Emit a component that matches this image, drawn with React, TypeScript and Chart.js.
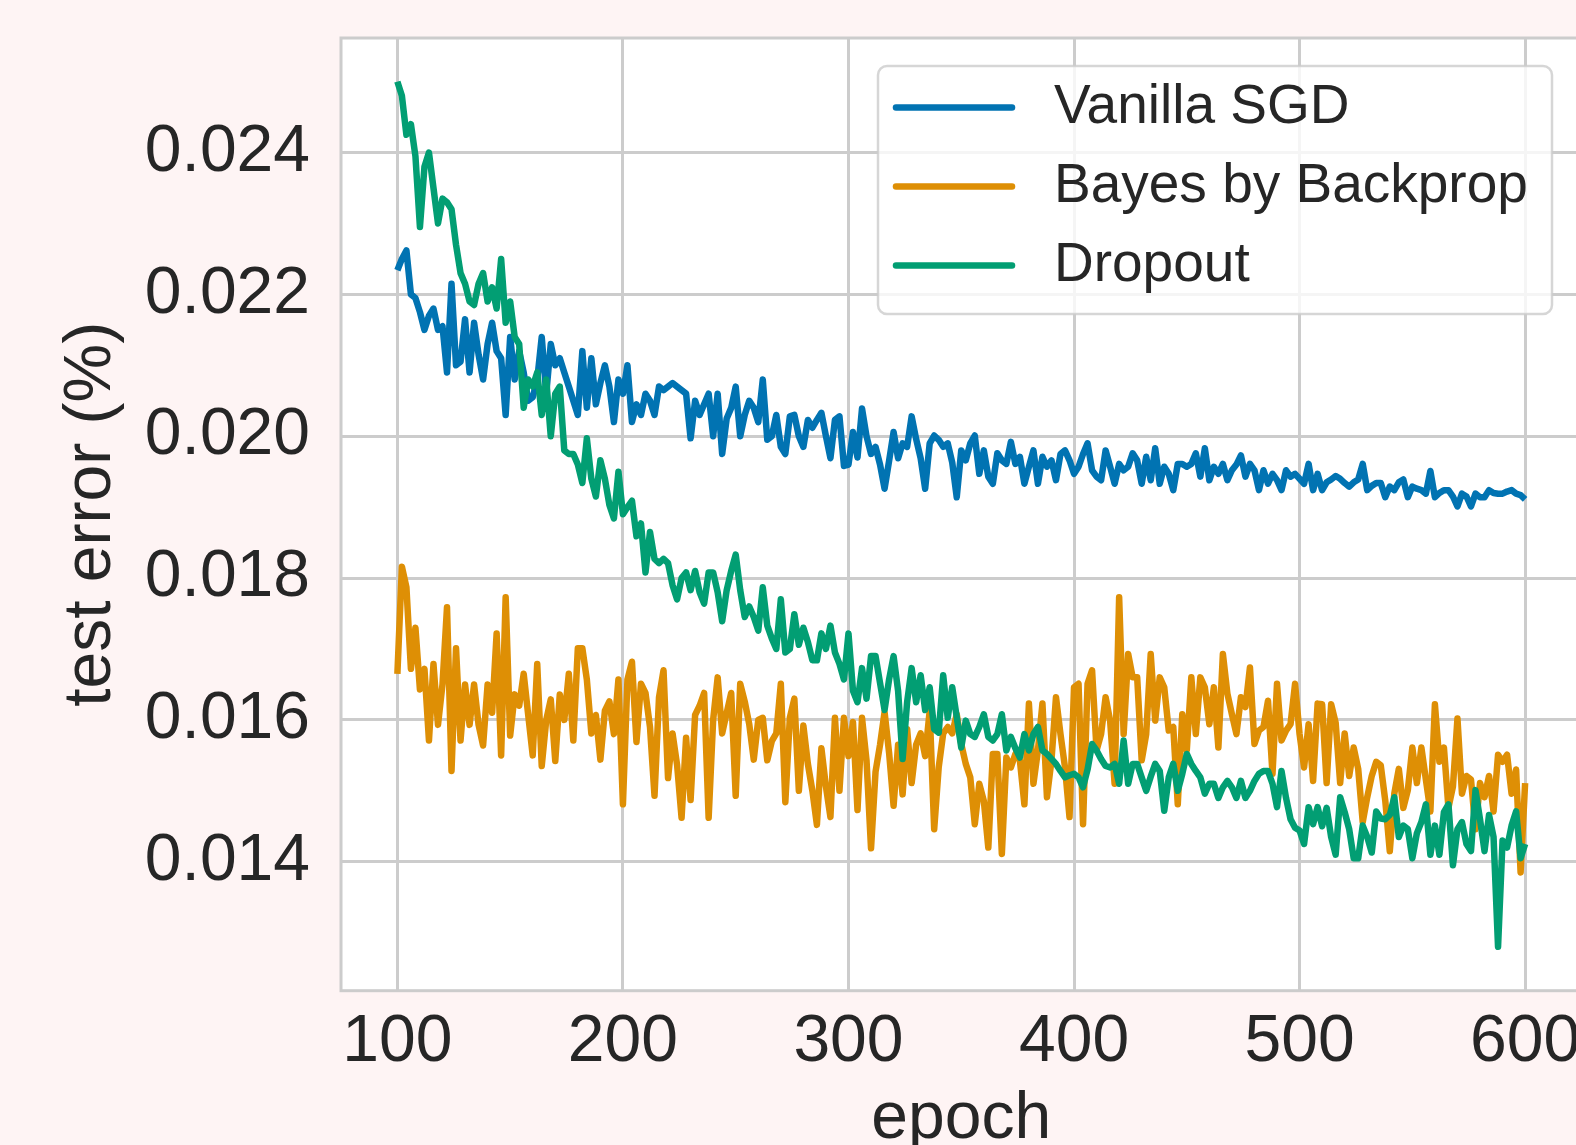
import { useEffect, useRef } from "react";
import { Chart, registerables } from "chart.js";

Chart.register(...registerables);

// ---------- data ----------
const EPOCH_START = 100;
const EPOCH_STEP = 2;
const X_TICKS = [100, 200, 300, 400, 500, 600];
const Y_TICKS = [0.014, 0.016, 0.018, 0.02, 0.022, 0.024];
const X_TITLE = "epoch";
const Y_TITLE = "test error (%)";
const SERIES_LABELS = ["Vanilla SGD", "Bayes by Backprop", "Dropout"];
const SERIES_COLORS = ["#0173b2", "#de8f05", "#029e73"];

const VANILLA_SGD = [
  0.02234, 0.0225, 0.02262, 0.022, 0.02195, 0.02175, 0.0215, 0.0217, 0.0218, 0.0215,
  0.02155, 0.0209, 0.02215, 0.021, 0.02105, 0.02165, 0.0209, 0.0216, 0.02115, 0.0208,
  0.0213, 0.0216, 0.0212, 0.0211, 0.0203, 0.0214, 0.0208, 0.0212, 0.0209, 0.0205,
  0.02055, 0.0208, 0.0214, 0.0206, 0.0213, 0.021, 0.0211, 0.0209, 0.0207, 0.0205,
  0.0203, 0.0212, 0.0204, 0.0211, 0.02045, 0.02075, 0.021, 0.0207, 0.0202, 0.0208,
  0.0206, 0.021, 0.0202, 0.02045, 0.0203, 0.0206, 0.0205, 0.0203, 0.0207, 0.02065,
  0.0207, 0.02075, 0.0207, 0.02065, 0.0206, 0.01997, 0.0205, 0.0203, 0.02045, 0.0206,
  0.02, 0.0206, 0.01975, 0.02025, 0.0204, 0.0207, 0.02, 0.0203, 0.0205, 0.0204,
  0.0202, 0.0208, 0.01995, 0.02, 0.0203, 0.01985, 0.01975, 0.02028, 0.0203, 0.02,
  0.01985, 0.02023, 0.02012, 0.02023, 0.02033, 0.02, 0.01969, 0.02023, 0.02028, 0.01958,
  0.0196, 0.02006, 0.0197, 0.02039, 0.02, 0.01975, 0.01985, 0.0196, 0.01926, 0.01965,
  0.02006, 0.01969, 0.0199, 0.01985, 0.02028, 0.01996, 0.01969, 0.01926, 0.0199, 0.02001,
  0.01995, 0.01985, 0.0199, 0.01963, 0.01914, 0.0198, 0.01966, 0.0199, 0.02001, 0.01947,
  0.0198, 0.01943, 0.01933, 0.01976, 0.01966, 0.01961, 0.01992, 0.01961, 0.01971, 0.01933,
  0.01957, 0.0198, 0.01933, 0.01971, 0.01957, 0.01966, 0.01938, 0.01975, 0.0198, 0.01966,
  0.01947, 0.01957, 0.01975, 0.0199, 0.01952, 0.01943, 0.01938, 0.0198, 0.01957, 0.01933,
  0.01961, 0.01952, 0.01957, 0.01976, 0.01966, 0.01933, 0.01971, 0.01938, 0.01983, 0.01933,
  0.01957, 0.01947, 0.01924, 0.01961, 0.01961, 0.01957, 0.01961, 0.01976, 0.01943, 0.01983,
  0.01938, 0.01957, 0.01947, 0.01961, 0.01938, 0.01952, 0.0196, 0.01973, 0.01943, 0.01961,
  0.01952, 0.01924, 0.01952, 0.01933, 0.01947, 0.01938, 0.01924, 0.01952, 0.01943, 0.01947,
  0.0194, 0.01933, 0.01961, 0.01924, 0.01947, 0.01924, 0.01935, 0.01939, 0.01944, 0.0194,
  0.01934, 0.01929, 0.01935, 0.01939, 0.01961, 0.01924, 0.0193, 0.01934, 0.01934, 0.01914,
  0.01929, 0.01924, 0.01935, 0.01939, 0.01914, 0.01929, 0.01926, 0.01924, 0.01919, 0.01951,
  0.01914, 0.0192, 0.01924, 0.01924, 0.01915, 0.01901, 0.01919, 0.01915, 0.01901, 0.01919,
  0.01914, 0.01914, 0.01924, 0.0192, 0.01919, 0.01919, 0.01922, 0.01924, 0.01919, 0.01917,
  0.01911,
];

const BAYES_BY_BACKPROP = [
  0.01665, 0.01816, 0.01787, 0.01672, 0.0173, 0.01643, 0.01672, 0.01571, 0.01679, 0.01593,
  0.0165, 0.01759, 0.01528, 0.01701, 0.01571, 0.0165, 0.01593, 0.0165, 0.01593, 0.01564,
  0.0165, 0.0161, 0.01722, 0.0155, 0.01773, 0.01578, 0.01636, 0.0162, 0.01665, 0.01607,
  0.0155, 0.01679, 0.01535, 0.016, 0.01629, 0.01542, 0.01636, 0.016, 0.01665, 0.01571,
  0.01701, 0.01701, 0.01657, 0.01581, 0.01607, 0.01544, 0.01613, 0.01626, 0.0158, 0.01657,
  0.01481, 0.01657, 0.01682, 0.01569, 0.01651, 0.01638, 0.0159, 0.01493, 0.01632, 0.0167,
  0.01518, 0.01581, 0.01537, 0.01462, 0.01575, 0.01487, 0.01607, 0.0162, 0.01638, 0.01462,
  0.016, 0.0166, 0.01581, 0.0161, 0.01638, 0.01493, 0.01651, 0.01626, 0.01594, 0.01544,
  0.016, 0.01603, 0.01543, 0.0157, 0.01581, 0.01651, 0.01484, 0.01603, 0.0163, 0.015,
  0.01592, 0.01538, 0.015, 0.01452, 0.0156, 0.01506, 0.01463, 0.01603, 0.015, 0.01603,
  0.01549, 0.01597, 0.01473, 0.01603, 0.01543, 0.01419, 0.01527, 0.01565, 0.01611, 0.01554,
  0.01479, 0.01565, 0.01495, 0.01587, 0.01511, 0.01565, 0.01581, 0.01549, 0.01613, 0.01446,
  0.01533, 0.01581, 0.0159, 0.01581, 0.01608, 0.01566, 0.01538, 0.01519, 0.01453, 0.0151,
  0.01486, 0.0142, 0.01552, 0.01552, 0.01411, 0.01547, 0.01533, 0.01552, 0.01543, 0.01481,
  0.01623, 0.0151, 0.01557, 0.01623, 0.01491, 0.01543, 0.01632, 0.0158, 0.01533, 0.01463,
  0.01646, 0.01651, 0.01453, 0.01651, 0.0167, 0.01557, 0.0158, 0.01632, 0.01599, 0.0151,
  0.01773, 0.0158, 0.01693, 0.0166, 0.0166, 0.01543, 0.0158, 0.01693, 0.01599, 0.0166,
  0.01646, 0.01585, 0.0159, 0.01481, 0.01608, 0.01557, 0.0166, 0.0158, 0.0166, 0.01646,
  0.01594, 0.01646, 0.01561, 0.01693, 0.01637, 0.01608, 0.0158, 0.01632, 0.01618, 0.01674,
  0.01566, 0.01585, 0.0159, 0.01627, 0.01524, 0.01651, 0.01571, 0.01585, 0.01594, 0.01651,
  0.0158, 0.01533, 0.01594, 0.01514, 0.01623, 0.01622, 0.01511, 0.01622, 0.01596, 0.01511,
  0.01581, 0.01521, 0.01561, 0.01531, 0.01456, 0.01491, 0.01521, 0.01541, 0.01536, 0.01486,
  0.01415, 0.01496, 0.01531, 0.01476, 0.01501, 0.01561, 0.01511, 0.01561, 0.01516, 0.01471,
  0.01622, 0.01541, 0.01561, 0.01476, 0.01506, 0.01602, 0.01496, 0.01521, 0.01516, 0.01446,
  0.01511, 0.01491, 0.01521, 0.01471, 0.01551, 0.01541, 0.01551, 0.01496, 0.0153, 0.01385,
  0.01511,
];

const DROPOUT = [
  0.025, 0.0248, 0.02425, 0.0244, 0.02395, 0.02295, 0.0238, 0.024, 0.0235, 0.023,
  0.02335, 0.0233, 0.0232, 0.0227, 0.0223, 0.02215, 0.0219, 0.02185, 0.02215, 0.0223,
  0.0219, 0.0221, 0.0218, 0.0225, 0.0216, 0.0219, 0.0214, 0.0213, 0.0204, 0.0208,
  0.0207, 0.0209, 0.0203, 0.0208, 0.02, 0.0206, 0.0207, 0.0198, 0.01975, 0.01975,
  0.0196, 0.01934, 0.01997, 0.0194, 0.01915, 0.01966, 0.0194, 0.01903, 0.01884, 0.0195,
  0.0189, 0.019, 0.01909, 0.01859, 0.01877, 0.01808, 0.01865, 0.01827, 0.01821, 0.01827,
  0.01821, 0.0179, 0.0177, 0.018, 0.01808, 0.01783, 0.0181, 0.0178, 0.01764, 0.01808,
  0.01808, 0.0178, 0.01739, 0.01783, 0.0181, 0.01833, 0.01783, 0.01745, 0.0176, 0.01745,
  0.01726, 0.01787, 0.01733, 0.01715, 0.017, 0.0177, 0.01695, 0.017, 0.01749, 0.01706,
  0.0173, 0.0171, 0.01684, 0.01684, 0.01722, 0.017, 0.01733, 0.01695, 0.01679, 0.01657,
  0.01722, 0.01641, 0.01625, 0.01673, 0.0163, 0.0169, 0.0169, 0.01652, 0.01614, 0.01657,
  0.0169, 0.01641, 0.01545, 0.01625, 0.01673, 0.01625, 0.01663, 0.01614, 0.01646, 0.01587,
  0.01582, 0.01663, 0.01603, 0.01646, 0.01604, 0.01561, 0.01599, 0.0158, 0.01576, 0.0159,
  0.01608, 0.01576, 0.01571, 0.0158, 0.01608, 0.01557, 0.01576, 0.0156, 0.01547, 0.0158,
  0.01557, 0.0158, 0.0159, 0.01557, 0.01552, 0.01545, 0.01538, 0.01528, 0.01519, 0.01522,
  0.01524, 0.01519, 0.01505, 0.0153, 0.01566, 0.01557, 0.01545, 0.01535, 0.01533, 0.01538,
  0.0151, 0.01571, 0.0151, 0.01538, 0.01538, 0.01519, 0.015, 0.0152, 0.01538, 0.01528,
  0.01472, 0.01519, 0.01538, 0.015, 0.01524, 0.01552, 0.01538, 0.01528, 0.01519, 0.01496,
  0.0151, 0.0151, 0.0149, 0.01505, 0.01514, 0.01505, 0.0149, 0.01514, 0.0149, 0.015,
  0.01514, 0.01524, 0.01528, 0.01528, 0.0151, 0.01477, 0.01528, 0.0149, 0.0146, 0.01448,
  0.01444, 0.01425, 0.01477, 0.01453, 0.01477, 0.0145, 0.01476, 0.01435, 0.0141, 0.01491,
  0.0147, 0.01446, 0.01405, 0.01405, 0.01451, 0.01435, 0.01413, 0.01471, 0.01461, 0.0146,
  0.01466, 0.01491, 0.01435, 0.01451, 0.01446, 0.01405, 0.0144, 0.01456, 0.01481, 0.0141,
  0.01451, 0.0141, 0.0147, 0.01481, 0.01395, 0.01446, 0.01456, 0.01425, 0.01415, 0.01501,
  0.0146, 0.01415, 0.01466, 0.01435, 0.0128, 0.0143, 0.0142, 0.01451, 0.01471, 0.01405,
  0.01425,
];

const SERIES = [VANILLA_SGD, BAYES_BY_BACKPROP, DROPOUT];

// ---------- layout / style ----------
const FONT = '"Liberation Sans", Arial, Helvetica, sans-serif';
const TEXT_COLOR = "#262626";
const GRID_COLOR = "#cccccc";
const PAGE_BG = "#fef4f4";
const CANVAS_W = 1600;
const CANVAS_H = 1160;
const AREA_LEFT = 341;
const AREA_TOP = 38;
const AREA_RIGHT = 1581.5;
const AREA_BOTTOM = 990.7;
const X_MIN = 75;
const X_MAX = 625;
const Y_MIN = 0.012182;
const Y_MAX = 0.025615;
const LINE_WIDTH = 6.5;

const framePlugin = {
  id: "frameAndLegend",
  beforeDraw(chart: any) {
    const { ctx, chartArea: a } = chart;
    ctx.save();
    ctx.fillStyle = "#ffffff";
    ctx.fillRect(a.left, a.top, a.right - a.left, a.bottom - a.top);
    ctx.restore();
  },
  afterDatasetsDraw(chart: any) {
    const { ctx, chartArea: a } = chart;
    ctx.save();
    ctx.strokeStyle = GRID_COLOR;
    ctx.lineWidth = 3;
    ctx.strokeRect(a.left, a.top, a.right - a.left, a.bottom - a.top);
    ctx.restore();
  },
  afterDraw(chart: any) {
    const { ctx } = chart;
    const bx = 878, by = 66, bw = 674, bh = 248, r = 9;
    ctx.save();
    ctx.beginPath();
    ctx.moveTo(bx + r, by);
    ctx.arcTo(bx + bw, by, bx + bw, by + bh, r);
    ctx.arcTo(bx + bw, by + bh, bx, by + bh, r);
    ctx.arcTo(bx, by + bh, bx, by, r);
    ctx.arcTo(bx, by, bx + bw, by, r);
    ctx.closePath();
    ctx.fillStyle = "rgba(255,255,255,0.8)";
    ctx.fill();
    ctx.strokeStyle = "rgba(204,204,204,0.8)";
    ctx.lineWidth = 2.5;
    ctx.stroke();
    const rows = [107.5, 186.5, 265.5];
    chart.data.datasets.forEach((ds: any, i: number) => {
      const y = rows[i];
      ctx.beginPath();
      ctx.moveTo(896, y);
      ctx.lineTo(1012, y);
      ctx.strokeStyle = ds.borderColor;
      ctx.lineWidth = ds.borderWidth;
      ctx.lineCap = "round";
      ctx.stroke();
      ctx.fillStyle = TEXT_COLOR;
      ctx.font = `55px ${FONT}`;
      ctx.textBaseline = "middle";
      ctx.textAlign = "left";
      ctx.fillText(ds.label, 1054, y);
    });
    ctx.restore();
  },
};

export default function App() {
  const canvasRef = useRef<HTMLCanvasElement | null>(null);

  useEffect(() => {
    const canvas = canvasRef.current;
    if (!canvas) return;
    const datasets = SERIES.map((values, s) => ({
      label: SERIES_LABELS[s],
      data: values.map((v, i) => ({ x: EPOCH_START + i * EPOCH_STEP, y: v })),
      borderColor: SERIES_COLORS[s],
      backgroundColor: SERIES_COLORS[s],
      borderWidth: LINE_WIDTH,
      pointRadius: 0,
      tension: 0,
      borderJoinStyle: "round" as const,
      borderCapStyle: "butt" as const,
      fill: false,
      order: SERIES.length - s,
    }));

    const chart = new Chart(canvas, {
      type: "line",
      data: { datasets },
      plugins: [framePlugin],
      options: {
        animation: false,
        responsive: false,
        maintainAspectRatio: false,
        devicePixelRatio: 1,
        layout: {
          padding: { left: 0, top: AREA_TOP, right: CANVAS_W - AREA_RIGHT, bottom: 0 },
        },
        plugins: {
          legend: { display: false },
          tooltip: { enabled: false },
        },
        scales: {
          x: {
            type: "linear",
            min: X_MIN,
            max: X_MAX,
            afterBuildTicks: (scale: any) => {
              scale.ticks = X_TICKS.map((v) => ({ value: v }));
            },
            afterFit: (scale: any) => {
              scale.height = CANVAS_H - AREA_BOTTOM;
              scale.paddingLeft = 0;
              scale.paddingRight = 0;
            },
            ticks: {
              autoSkip: false,
              maxRotation: 0,
              padding: 12,
              color: TEXT_COLOR,
              font: { family: FONT, size: 66 },
              callback: (v: any) => String(v),
            },
            grid: { color: GRID_COLOR, lineWidth: 3, drawTicks: false },
            border: { display: false },
            title: {
              display: true,
              text: X_TITLE,
              color: TEXT_COLOR,
              font: { family: FONT, size: 66 },
              padding: { top: 0, bottom: 0.5 },
            },
          },
          y: {
            type: "linear",
            min: Y_MIN,
            max: Y_MAX,
            afterBuildTicks: (scale: any) => {
              scale.ticks = Y_TICKS.map((v) => ({ value: v }));
            },
            afterFit: (scale: any) => {
              scale.width = AREA_LEFT;
              scale.paddingTop = 0;
              scale.paddingBottom = 0;
            },
            ticks: {
              autoSkip: false,
              padding: 31,
              color: TEXT_COLOR,
              font: { family: FONT, size: 66 },
              callback: (v: any) => Number(v).toFixed(3),
            },
            grid: { color: GRID_COLOR, lineWidth: 3, drawTicks: false },
            border: { display: false },
            title: {
              display: true,
              text: Y_TITLE,
              color: TEXT_COLOR,
              font: { family: FONT, size: 66 },
              padding: { top: 52, bottom: 0 },
            },
          },
        },
      },
    });
    return () => chart.destroy();
  }, []);

  return (
    <div
      style={{
        position: "fixed",
        left: 0,
        top: 0,
        width: 1576,
        height: 1145,
        overflow: "hidden",
        background: PAGE_BG,
      }}
    >
      <canvas
        ref={canvasRef}
        width={CANVAS_W}
        height={CANVAS_H}
        style={{ display: "block", width: CANVAS_W, height: CANVAS_H }}
      />
    </div>
  );
}
